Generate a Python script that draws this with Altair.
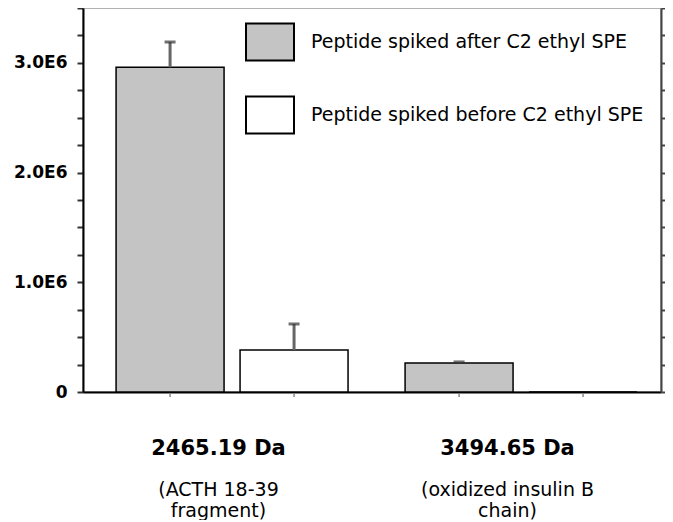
import altair as alt
import pandas as pd

groups = ["2465.19 Da", "3494.65 Da"]
subtitles = ["(ACTH 18-39\nfragment)", "(oxidized insulin B\nchain)"]
series = ["Peptide spiked after C2 ethyl SPE", "Peptide spiked before C2 ethyl SPE"]
after_values = [2.96e6, 0.264e6]
after_errors = [0.23e6, 0.01e6]
before_values = [0.383e6, 0.0]
before_errors = [0.237e6, 0.0]
y_ticks = [0, 250000, 500000, 750000, 1000000, 1250000, 1500000, 1750000,
           2000000, 2250000, 2500000, 2750000, 3000000, 3250000, 3500000]
fills = ["#c4c4c4", "#ffffff"]

rows = []
for i, g in enumerate(groups):
    rows.append(dict(group=g, series=series[0], value=after_values[i], err=after_errors[i]))
    rows.append(dict(group=g, series=series[1], value=before_values[i], err=before_errors[i]))
df = pd.DataFrame(rows)
df["hi"] = df["value"] + df["err"]
err_df = df[df["err"] > 0]
lab_df = pd.DataFrame({"group": groups, "sub": subtitles})

W, H = 578, 384

x_enc = alt.X("group:N", sort=groups,
              scale=alt.Scale(domain=groups, paddingInner=0, paddingOuter=0),
              axis=alt.Axis(title=None, labels=False, ticks=False, domainColor="black",
                            domainWidth=2, grid=False))
xo_enc = alt.XOffset("series:N", sort=series,
                     scale=alt.Scale(domain=series, paddingInner=0.129, paddingOuter=0.23, align=0.58))
yscale = alt.Scale(domain=[0, 3500000], nice=False, zero=True)

label_expr = ("datum.value % 1000000 == 0 ? (datum.value == 0 ? '0' : "
              "format(datum.value / 1000000, '.1f') + 'E6') : ''")

bars = alt.Chart(df).mark_bar(stroke="black", strokeWidth=1.5).encode(
    x=x_enc,
    xOffset=xo_enc,
    y=alt.Y("value:Q", scale=yscale,
            axis=alt.Axis(orient="left", values=y_ticks, labelExpr=label_expr,
                          labelFont="DejaVu Sans", labelFontWeight="bold", labelFontSize=17,
                          labelColor="black", labelPadding=10, tickSize=6, tickColor="#333333",
                          tickWidth=2, domainColor="black", domainWidth=2, grid=False,
                          title=None, labelFlush=False, labelOverlap=False)),
    color=alt.Color("series:N", sort=series,
                    scale=alt.Scale(domain=series, range=fills),
                    legend=alt.Legend(title=None, orient="none", legendX=162, legendY=9,
                                      symbolType="M-1,-0.77L1,-0.77L1,0.77L-1,0.77Z",
                                      symbolSize=2304, symbolStrokeColor="black",
                                      symbolStrokeWidth=2, symbolOpacity=1,
                                      labelFont="DejaVu Sans", labelFontSize=19,
                                      labelColor="black", labelOffset=16, rowPadding=25,
                                      labelLimit=500, padding=0)),
)

err_rule = alt.Chart(err_df).mark_rule(color="#666666", strokeWidth=3).encode(
    x=x_enc,
    xOffset=xo_enc,
    y=alt.Y("value:Q", scale=yscale,
            axis=alt.Axis(orient="right", values=y_ticks, labels=False, tickSize=6,
                          tickColor="#444444", tickWidth=2, domainColor="#444444",
                          domainWidth=2, grid=False, title=None)),
    y2="hi:Q",
)

err_cap = alt.Chart(err_df).mark_tick(color="#333333", thickness=3, size=11).encode(
    x=x_enc,
    xOffset=xo_enc,
    y=alt.Y("hi:Q", scale=yscale, axis=None),
)

xticks = alt.Chart(df).mark_rule(color="#888888", strokeWidth=1.5).encode(
    x=x_enc,
    xOffset=xo_enc,
    y=alt.value(H + 1),
    y2=alt.value(H + 5),
)

main_lab = alt.Chart(lab_df).mark_text(
    font="DejaVu Sans", fontWeight="bold", fontSize=21, baseline="alphabetic",
    align="center", dx=-9, color="black"
).encode(x=x_enc, y=alt.value(447), text="group:N")

sub_lab = alt.Chart(lab_df).mark_text(
    font="DejaVu Sans", fontSize=19, baseline="alphabetic", align="center", dx=-9,
    lineBreak="\n", lineHeight=21, color="black"
).encode(x=x_enc, y=alt.value(488), text="sub:N")

chart = alt.layer(bars, err_rule, err_cap, xticks, main_lab, sub_lab).resolve_axis(
    y="independent"
).properties(
    width=W, height=H,
    autosize=alt.AutoSizeParams(type="none"),
    padding={"left": 75, "top": 0, "right": 4, "bottom": 128},
).configure_view(stroke="#999999", strokeWidth=1.5)

chart.save("out.html", embed_options={"renderer": "svg", "actions": False})
